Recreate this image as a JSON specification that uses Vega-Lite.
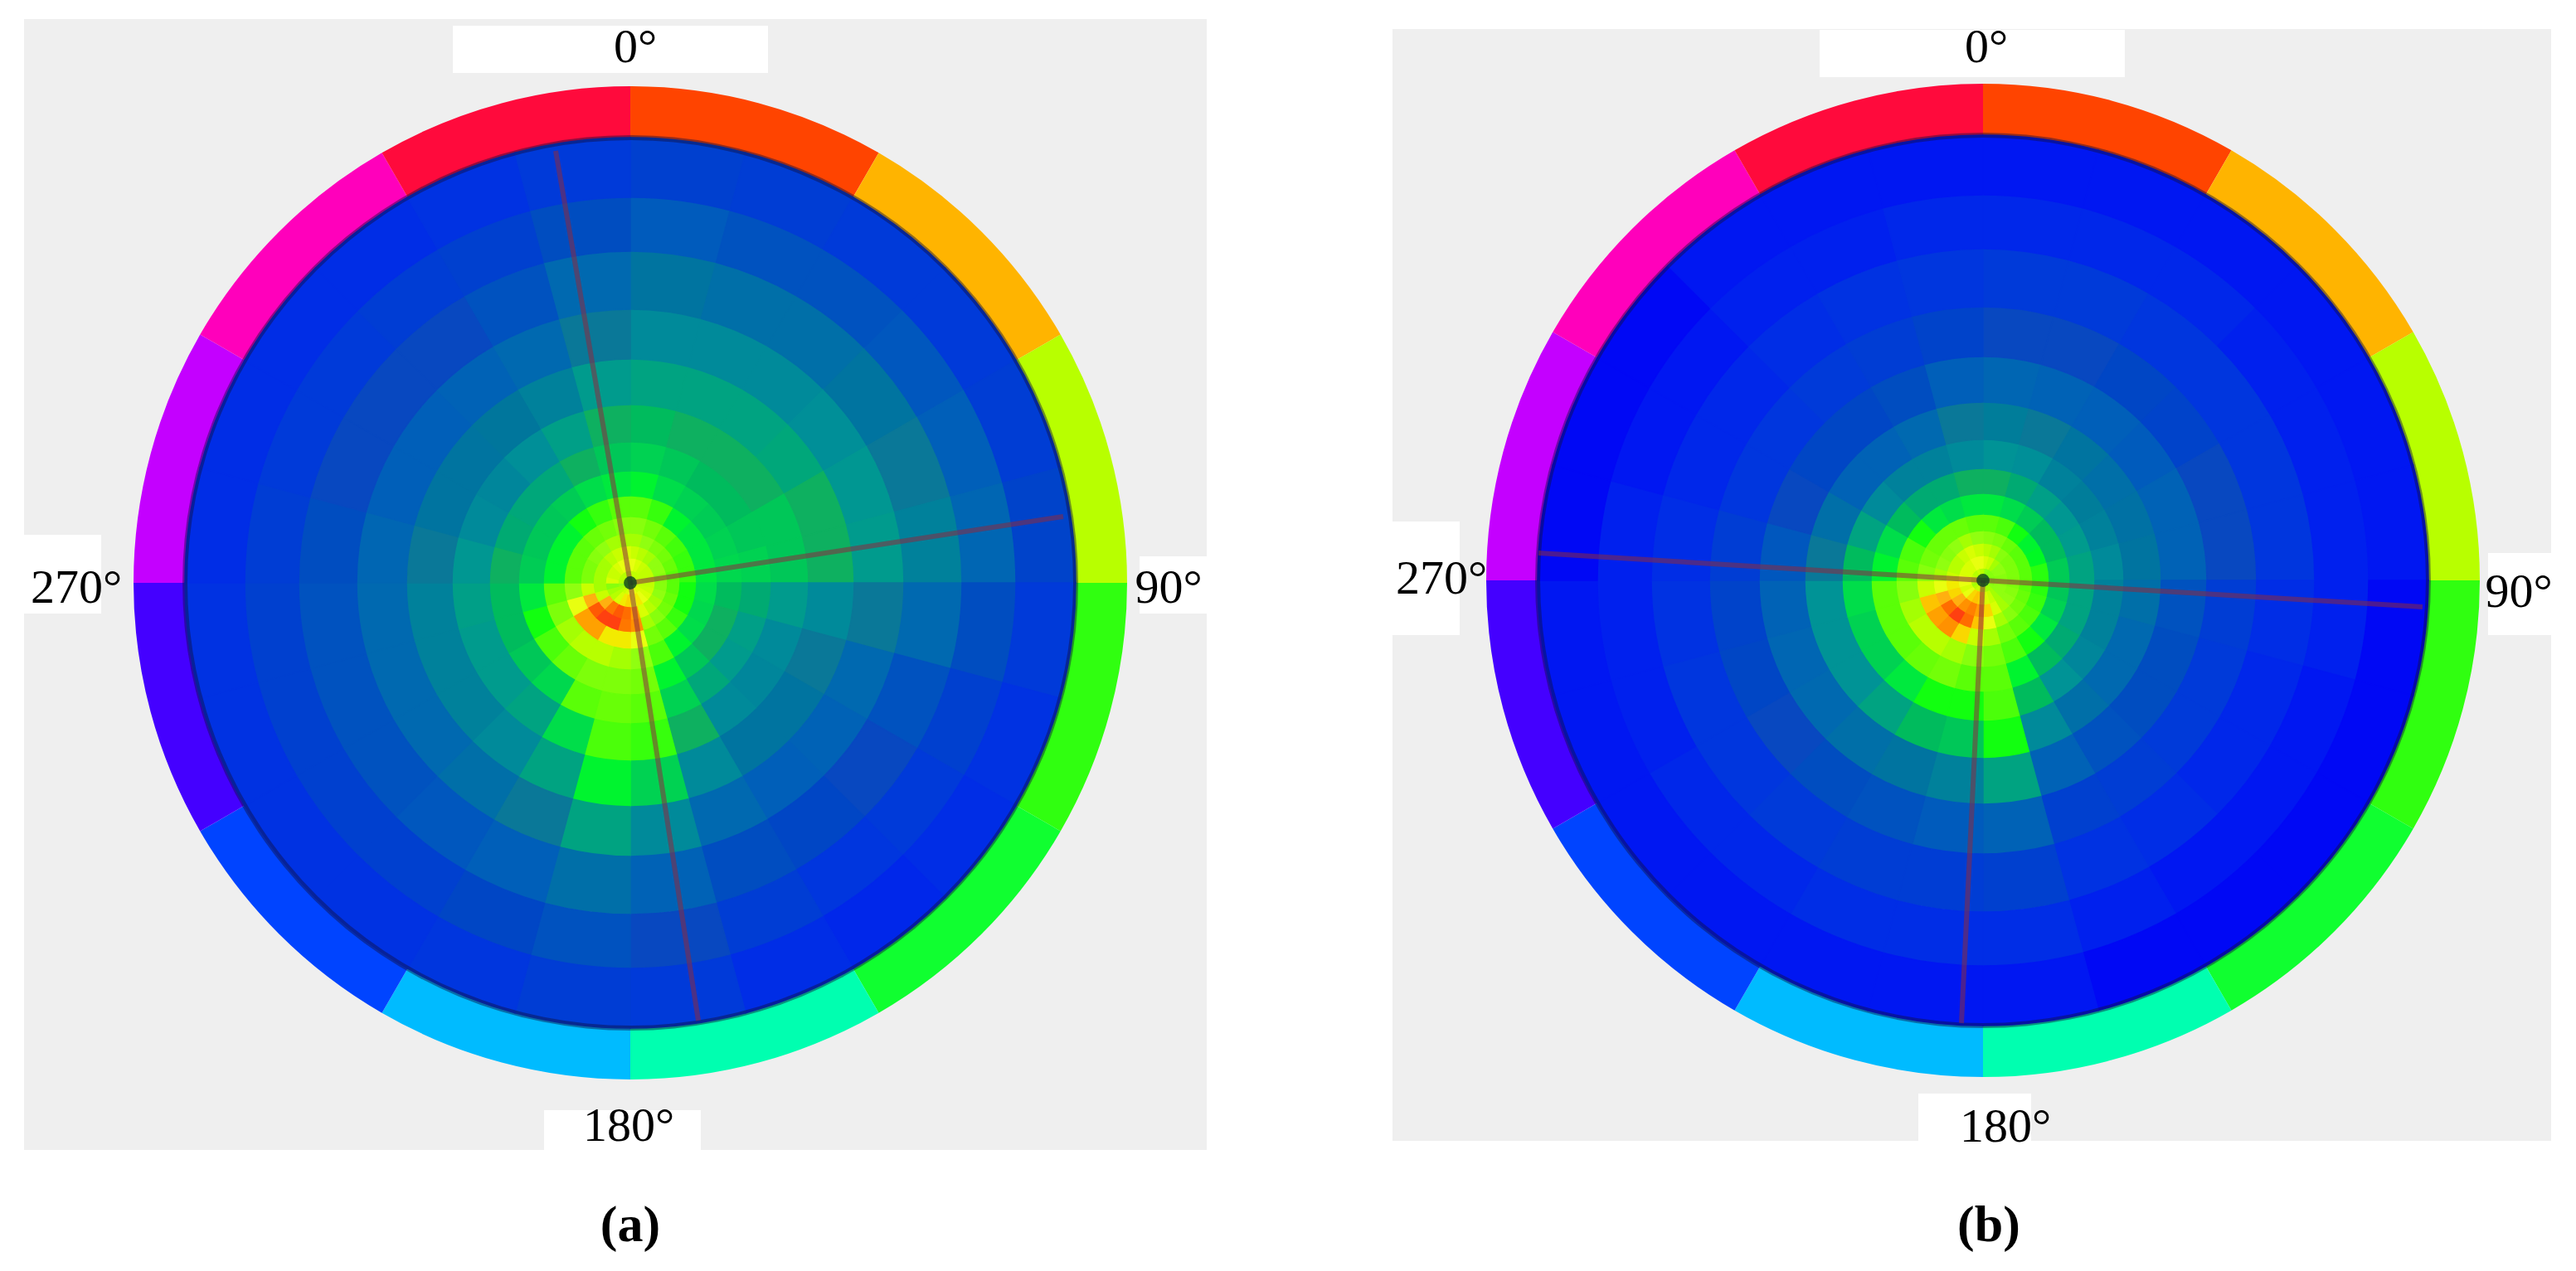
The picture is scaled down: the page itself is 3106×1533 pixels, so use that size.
{"$schema":"https://vega.github.io/schema/vega-lite/v6.json","padding":0,"spacing":0,"background":"white","config":{"view":{"stroke":null}},
"datasets":{
"rings":[{"r":0,"s":15},{"r":15,"s":30},{"r":30,"s":45},{"r":45,"s":60},{"r":60,"s":80},{"r":80,"s":105},{"r":105,"s":135},{"r":135,"s":170},{"r":170,"s":215},{"r":215,"s":270},{"r":270,"s":330},{"r":330,"s":400},{"r":400,"s":465},{"r":465,"s":537}],
"sectors":[{"a":0,"b":15},{"a":15,"b":30},{"a":30,"b":45},{"a":45,"b":60},{"a":60,"b":75},{"a":75,"b":90},{"a":90,"b":105},{"a":105,"b":120},{"a":120,"b":135},{"a":135,"b":150},{"a":150,"b":165},{"a":165,"b":180},{"a":180,"b":195},{"a":195,"b":210},{"a":210,"b":225},{"a":225,"b":240},{"a":240,"b":255},{"a":255,"b":270},{"a":270,"b":285},{"a":285,"b":300},{"a":300,"b":315},{"a":315,"b":330},{"a":330,"b":345},{"a":345,"b":360}],
"hue":[{"a":0,"b":30,"r":536,"s":599,"h":"h01"},{"a":30,"b":60,"r":536,"s":599,"h":"h02"},{"a":60,"b":90,"r":536,"s":599,"h":"h03"},{"a":90,"b":120,"r":536,"s":599,"h":"h04"},{"a":120,"b":150,"r":536,"s":599,"h":"h05"},{"a":150,"b":180,"r":536,"s":599,"h":"h06"},{"a":180,"b":210,"r":536,"s":599,"h":"h07"},{"a":210,"b":240,"r":536,"s":599,"h":"h08"},{"a":240,"b":270,"r":536,"s":599,"h":"h09"},{"a":270,"b":300,"r":536,"s":599,"h":"h10"},{"a":300,"b":330,"r":536,"s":599,"h":"h11"},{"a":330,"b":360,"r":536,"s":599,"h":"h12"}],
"A":[
{"a":0,"r":0,"v":75},{"a":0,"r":15,"v":80},{"a":0,"r":30,"v":76},{"a":0,"r":45,"v":72},{"a":0,"r":60,"v":68},{"a":0,"r":80,"v":60},{"a":0,"r":105,"v":52},{"a":0,"r":135,"v":46},{"a":0,"r":170,"v":42},{"a":0,"r":215,"v":36},{"a":0,"r":270,"v":30},{"a":0,"r":330,"v":24},{"a":0,"r":400,"v":16},{"a":0,"r":465,"v":9},
{"a":15,"r":0,"v":75},{"a":15,"r":15,"v":78},{"a":15,"r":30,"v":74},{"a":15,"r":45,"v":70},{"a":15,"r":60,"v":64},{"a":15,"r":80,"v":56},{"a":15,"r":105,"v":48},{"a":15,"r":135,"v":44},{"a":15,"r":170,"v":40},{"a":15,"r":215,"v":36},{"a":15,"r":270,"v":30},{"a":15,"r":330,"v":22},{"a":15,"r":400,"v":14},{"a":15,"r":465,"v":8},
{"a":30,"r":0,"v":75},{"a":30,"r":15,"v":76},{"a":30,"r":30,"v":72},{"a":30,"r":45,"v":66},{"a":30,"r":60,"v":60},{"a":30,"r":80,"v":52},{"a":30,"r":105,"v":46},{"a":30,"r":135,"v":42},{"a":30,"r":170,"v":40},{"a":30,"r":215,"v":36},{"a":30,"r":270,"v":30},{"a":30,"r":330,"v":22},{"a":30,"r":400,"v":14},{"a":30,"r":465,"v":7},
{"a":45,"r":0,"v":75},{"a":45,"r":15,"v":75},{"a":45,"r":30,"v":70},{"a":45,"r":45,"v":64},{"a":45,"r":60,"v":57},{"a":45,"r":80,"v":50},{"a":45,"r":105,"v":45},{"a":45,"r":135,"v":42},{"a":45,"r":170,"v":40},{"a":45,"r":215,"v":37},{"a":45,"r":270,"v":31},{"a":45,"r":330,"v":24},{"a":45,"r":400,"v":15},{"a":45,"r":465,"v":7},
{"a":60,"r":0,"v":75},{"a":60,"r":15,"v":75},{"a":60,"r":30,"v":70},{"a":60,"r":45,"v":62},{"a":60,"r":60,"v":56},{"a":60,"r":80,"v":50},{"a":60,"r":105,"v":46},{"a":60,"r":135,"v":44},{"a":60,"r":170,"v":44},{"a":60,"r":215,"v":40},{"a":60,"r":270,"v":33},{"a":60,"r":330,"v":26},{"a":60,"r":400,"v":17},{"a":60,"r":465,"v":8},
{"a":75,"r":0,"v":75},{"a":75,"r":15,"v":74},{"a":75,"r":30,"v":68},{"a":75,"r":45,"v":60},{"a":75,"r":60,"v":56},{"a":75,"r":80,"v":50},{"a":75,"r":105,"v":47},{"a":75,"r":135,"v":46},{"a":75,"r":170,"v":44},{"a":75,"r":215,"v":40},{"a":75,"r":270,"v":34},{"a":75,"r":330,"v":28},{"a":75,"r":400,"v":19},{"a":75,"r":465,"v":10},
{"a":90,"r":0,"v":75},{"a":90,"r":15,"v":75},{"a":90,"r":30,"v":68},{"a":90,"r":45,"v":60},{"a":90,"r":60,"v":54},{"a":90,"r":80,"v":48},{"a":90,"r":105,"v":42},{"a":90,"r":135,"v":38},{"a":90,"r":170,"v":34},{"a":90,"r":215,"v":30},{"a":90,"r":270,"v":26},{"a":90,"r":330,"v":20},{"a":90,"r":400,"v":13},{"a":90,"r":465,"v":7},
{"a":105,"r":0,"v":76},{"a":105,"r":15,"v":76},{"a":105,"r":30,"v":70},{"a":105,"r":45,"v":62},{"a":105,"r":60,"v":54},{"a":105,"r":80,"v":47},{"a":105,"r":105,"v":40},{"a":105,"r":135,"v":35},{"a":105,"r":170,"v":30},{"a":105,"r":215,"v":26},{"a":105,"r":270,"v":20},{"a":105,"r":330,"v":14},{"a":105,"r":400,"v":9},{"a":105,"r":465,"v":5},
{"a":120,"r":0,"v":78},{"a":120,"r":15,"v":78},{"a":120,"r":30,"v":72},{"a":120,"r":45,"v":64},{"a":120,"r":60,"v":56},{"a":120,"r":80,"v":48},{"a":120,"r":105,"v":40},{"a":120,"r":135,"v":34},{"a":120,"r":170,"v":29},{"a":120,"r":215,"v":24},{"a":120,"r":270,"v":18},{"a":120,"r":330,"v":12},{"a":120,"r":400,"v":7},{"a":120,"r":465,"v":4},
{"a":135,"r":0,"v":78},{"a":135,"r":15,"v":80},{"a":135,"r":30,"v":74},{"a":135,"r":45,"v":68},{"a":135,"r":60,"v":60},{"a":135,"r":80,"v":52},{"a":135,"r":105,"v":44},{"a":135,"r":135,"v":37},{"a":135,"r":170,"v":30},{"a":135,"r":215,"v":24},{"a":135,"r":270,"v":17},{"a":135,"r":330,"v":11},{"a":135,"r":400,"v":6},{"a":135,"r":465,"v":3},
{"a":150,"r":0,"v":80},{"a":150,"r":15,"v":82},{"a":150,"r":30,"v":78},{"a":150,"r":45,"v":72},{"a":150,"r":60,"v":64},{"a":150,"r":80,"v":58},{"a":150,"r":105,"v":52},{"a":150,"r":135,"v":46},{"a":150,"r":170,"v":40},{"a":150,"r":215,"v":30},{"a":150,"r":270,"v":20},{"a":150,"r":330,"v":13},{"a":150,"r":400,"v":8},{"a":150,"r":465,"v":4},
{"a":165,"r":0,"v":80},{"a":165,"r":15,"v":80},{"a":165,"r":30,"v":90},{"a":165,"r":45,"v":92},{"a":165,"r":60,"v":80},{"a":165,"r":80,"v":70},{"a":165,"r":105,"v":64},{"a":165,"r":135,"v":60},{"a":165,"r":170,"v":56},{"a":165,"r":215,"v":46},{"a":165,"r":270,"v":30},{"a":165,"r":330,"v":18},{"a":165,"r":400,"v":12},{"a":165,"r":465,"v":7},
{"a":180,"r":0,"v":80},{"a":180,"r":15,"v":84},{"a":180,"r":30,"v":96},{"a":180,"r":45,"v":95},{"a":180,"r":60,"v":82},{"a":180,"r":80,"v":72},{"a":180,"r":105,"v":66},{"a":180,"r":135,"v":62},{"a":180,"r":170,"v":58},{"a":180,"r":215,"v":52},{"a":180,"r":270,"v":36},{"a":180,"r":330,"v":22},{"a":180,"r":400,"v":14},{"a":180,"r":465,"v":8},
{"a":195,"r":0,"v":78},{"a":195,"r":15,"v":82},{"a":195,"r":30,"v":98},{"a":195,"r":45,"v":100},{"a":195,"r":60,"v":82},{"a":195,"r":80,"v":74},{"a":195,"r":105,"v":66},{"a":195,"r":135,"v":60},{"a":195,"r":170,"v":48},{"a":195,"r":215,"v":36},{"a":195,"r":270,"v":26},{"a":195,"r":330,"v":17},{"a":195,"r":400,"v":11},{"a":195,"r":465,"v":6},
{"a":210,"r":0,"v":76},{"a":210,"r":15,"v":78},{"a":210,"r":30,"v":95},{"a":210,"r":45,"v":100},{"a":210,"r":60,"v":90},{"a":210,"r":80,"v":74},{"a":210,"r":105,"v":62},{"a":210,"r":135,"v":47},{"a":210,"r":170,"v":36},{"a":210,"r":215,"v":30},{"a":210,"r":270,"v":22},{"a":210,"r":330,"v":15},{"a":210,"r":400,"v":9},{"a":210,"r":465,"v":5},
{"a":225,"r":0,"v":74},{"a":225,"r":15,"v":74},{"a":225,"r":30,"v":88},{"a":225,"r":45,"v":98},{"a":225,"r":60,"v":90},{"a":225,"r":80,"v":72},{"a":225,"r":105,"v":58},{"a":225,"r":135,"v":44},{"a":225,"r":170,"v":34},{"a":225,"r":215,"v":28},{"a":225,"r":270,"v":20},{"a":225,"r":330,"v":14},{"a":225,"r":400,"v":9},{"a":225,"r":465,"v":5},
{"a":240,"r":0,"v":72},{"a":240,"r":15,"v":72},{"a":240,"r":30,"v":76},{"a":240,"r":45,"v":88},{"a":240,"r":60,"v":80},{"a":240,"r":80,"v":66},{"a":240,"r":105,"v":54},{"a":240,"r":135,"v":42},{"a":240,"r":170,"v":34},{"a":240,"r":215,"v":28},{"a":240,"r":270,"v":20},{"a":240,"r":330,"v":14},{"a":240,"r":400,"v":9},{"a":240,"r":465,"v":5},
{"a":255,"r":0,"v":70},{"a":255,"r":15,"v":68},{"a":255,"r":30,"v":72},{"a":255,"r":45,"v":76},{"a":255,"r":60,"v":70},{"a":255,"r":80,"v":60},{"a":255,"r":105,"v":50},{"a":255,"r":135,"v":42},{"a":255,"r":170,"v":35},{"a":255,"r":215,"v":28},{"a":255,"r":270,"v":20},{"a":255,"r":330,"v":14},{"a":255,"r":400,"v":9},{"a":255,"r":465,"v":5},
{"a":270,"r":0,"v":74},{"a":270,"r":15,"v":78},{"a":270,"r":30,"v":72},{"a":270,"r":45,"v":66},{"a":270,"r":60,"v":60},{"a":270,"r":80,"v":52},{"a":270,"r":105,"v":45},{"a":270,"r":135,"v":40},{"a":270,"r":170,"v":33},{"a":270,"r":215,"v":26},{"a":270,"r":270,"v":19},{"a":270,"r":330,"v":13},{"a":270,"r":400,"v":8},{"a":270,"r":465,"v":4},
{"a":285,"r":0,"v":74},{"a":285,"r":15,"v":76},{"a":285,"r":30,"v":72},{"a":285,"r":45,"v":66},{"a":285,"r":60,"v":60},{"a":285,"r":80,"v":52},{"a":285,"r":105,"v":44},{"a":285,"r":135,"v":38},{"a":285,"r":170,"v":30},{"a":285,"r":215,"v":24},{"a":285,"r":270,"v":17},{"a":285,"r":330,"v":12},{"a":285,"r":400,"v":7},{"a":285,"r":465,"v":4},
{"a":300,"r":0,"v":74},{"a":300,"r":15,"v":76},{"a":300,"r":30,"v":72},{"a":300,"r":45,"v":68},{"a":300,"r":60,"v":60},{"a":300,"r":80,"v":52},{"a":300,"r":105,"v":44},{"a":300,"r":135,"v":37},{"a":300,"r":170,"v":29},{"a":300,"r":215,"v":24},{"a":300,"r":270,"v":17},{"a":300,"r":330,"v":12},{"a":300,"r":400,"v":7},{"a":300,"r":465,"v":4},
{"a":315,"r":0,"v":74},{"a":315,"r":15,"v":78},{"a":315,"r":30,"v":74},{"a":315,"r":45,"v":70},{"a":315,"r":60,"v":62},{"a":315,"r":80,"v":54},{"a":315,"r":105,"v":45},{"a":315,"r":135,"v":37},{"a":315,"r":170,"v":31},{"a":315,"r":215,"v":25},{"a":315,"r":270,"v":18},{"a":315,"r":330,"v":12},{"a":315,"r":400,"v":8},{"a":315,"r":465,"v":4},
{"a":330,"r":0,"v":74},{"a":330,"r":15,"v":80},{"a":330,"r":30,"v":76},{"a":330,"r":45,"v":72},{"a":330,"r":60,"v":64},{"a":330,"r":80,"v":56},{"a":330,"r":105,"v":48},{"a":330,"r":135,"v":40},{"a":330,"r":170,"v":35},{"a":330,"r":215,"v":28},{"a":330,"r":270,"v":20},{"a":330,"r":330,"v":14},{"a":330,"r":400,"v":9},{"a":330,"r":465,"v":5},
{"a":345,"r":0,"v":75},{"a":345,"r":15,"v":80},{"a":345,"r":30,"v":78},{"a":345,"r":45,"v":72},{"a":345,"r":60,"v":68},{"a":345,"r":80,"v":60},{"a":345,"r":105,"v":50},{"a":345,"r":135,"v":44},{"a":345,"r":170,"v":40},{"a":345,"r":215,"v":34},{"a":345,"r":270,"v":26},{"a":345,"r":330,"v":20},{"a":345,"r":400,"v":13},{"a":345,"r":465,"v":7}
],
"B":[
{"a":0,"r":0,"v":72},{"a":0,"r":15,"v":78},{"a":0,"r":30,"v":74},{"a":0,"r":45,"v":68},{"a":0,"r":60,"v":60},{"a":0,"r":80,"v":50},{"a":0,"r":105,"v":40},{"a":0,"r":135,"v":32},{"a":0,"r":170,"v":27},{"a":0,"r":215,"v":19},{"a":0,"r":270,"v":12},{"a":0,"r":330,"v":7},{"a":0,"r":400,"v":3},{"a":0,"r":465,"v":1},
{"a":15,"r":0,"v":70},{"a":15,"r":15,"v":76},{"a":15,"r":30,"v":72},{"a":15,"r":45,"v":66},{"a":15,"r":60,"v":58},{"a":15,"r":80,"v":48},{"a":15,"r":105,"v":38},{"a":15,"r":135,"v":31},{"a":15,"r":170,"v":26},{"a":15,"r":215,"v":18},{"a":15,"r":270,"v":12},{"a":15,"r":330,"v":7},{"a":15,"r":400,"v":3},{"a":15,"r":465,"v":1},
{"a":30,"r":0,"v":68},{"a":30,"r":15,"v":72},{"a":30,"r":30,"v":68},{"a":30,"r":45,"v":62},{"a":30,"r":60,"v":54},{"a":30,"r":80,"v":45},{"a":30,"r":105,"v":35},{"a":30,"r":135,"v":28},{"a":30,"r":170,"v":24},{"a":30,"r":215,"v":17},{"a":30,"r":270,"v":11},{"a":30,"r":330,"v":6},{"a":30,"r":400,"v":3},{"a":30,"r":465,"v":1},
{"a":45,"r":0,"v":68},{"a":45,"r":15,"v":70},{"a":45,"r":30,"v":66},{"a":45,"r":45,"v":60},{"a":45,"r":60,"v":52},{"a":45,"r":80,"v":42},{"a":45,"r":105,"v":33},{"a":45,"r":135,"v":27},{"a":45,"r":170,"v":22},{"a":45,"r":215,"v":16},{"a":45,"r":270,"v":10},{"a":45,"r":330,"v":6},{"a":45,"r":400,"v":2},{"a":45,"r":465,"v":1},
{"a":60,"r":0,"v":68},{"a":60,"r":15,"v":70},{"a":60,"r":30,"v":66},{"a":60,"r":45,"v":60},{"a":60,"r":60,"v":53},{"a":60,"r":80,"v":42},{"a":60,"r":105,"v":34},{"a":60,"r":135,"v":28},{"a":60,"r":170,"v":23},{"a":60,"r":215,"v":18},{"a":60,"r":270,"v":12},{"a":60,"r":330,"v":6},{"a":60,"r":400,"v":2},{"a":60,"r":465,"v":1},
{"a":75,"r":0,"v":66},{"a":75,"r":15,"v":68},{"a":75,"r":30,"v":66},{"a":75,"r":45,"v":60},{"a":75,"r":60,"v":55},{"a":75,"r":80,"v":45},{"a":75,"r":105,"v":36},{"a":75,"r":135,"v":30},{"a":75,"r":170,"v":24},{"a":75,"r":215,"v":18},{"a":75,"r":270,"v":12},{"a":75,"r":330,"v":6},{"a":75,"r":400,"v":2},{"a":75,"r":465,"v":1},
{"a":90,"r":0,"v":66},{"a":90,"r":15,"v":68},{"a":90,"r":30,"v":66},{"a":90,"r":45,"v":60},{"a":90,"r":60,"v":55},{"a":90,"r":80,"v":44},{"a":90,"r":105,"v":36},{"a":90,"r":135,"v":28},{"a":90,"r":170,"v":22},{"a":90,"r":215,"v":14},{"a":90,"r":270,"v":8},{"a":90,"r":330,"v":4},{"a":90,"r":400,"v":2},{"a":90,"r":465,"v":0},
{"a":105,"r":0,"v":68},{"a":105,"r":15,"v":70},{"a":105,"r":30,"v":68},{"a":105,"r":45,"v":62},{"a":105,"r":60,"v":56},{"a":105,"r":80,"v":46},{"a":105,"r":105,"v":36},{"a":105,"r":135,"v":28},{"a":105,"r":170,"v":20},{"a":105,"r":215,"v":13},{"a":105,"r":270,"v":7},{"a":105,"r":330,"v":3},{"a":105,"r":400,"v":1},{"a":105,"r":465,"v":0},
{"a":120,"r":0,"v":70},{"a":120,"r":15,"v":70},{"a":120,"r":30,"v":70},{"a":120,"r":45,"v":64},{"a":120,"r":60,"v":58},{"a":120,"r":80,"v":50},{"a":120,"r":105,"v":38},{"a":120,"r":135,"v":29},{"a":120,"r":170,"v":20},{"a":120,"r":215,"v":13},{"a":120,"r":270,"v":7},{"a":120,"r":330,"v":3},{"a":120,"r":400,"v":1},{"a":120,"r":465,"v":0},
{"a":135,"r":0,"v":72},{"a":135,"r":15,"v":72},{"a":135,"r":30,"v":72},{"a":135,"r":45,"v":68},{"a":135,"r":60,"v":60},{"a":135,"r":80,"v":54},{"a":135,"r":105,"v":42},{"a":135,"r":135,"v":32},{"a":135,"r":170,"v":22},{"a":135,"r":215,"v":14},{"a":135,"r":270,"v":8},{"a":135,"r":330,"v":4},{"a":135,"r":400,"v":1},{"a":135,"r":465,"v":0},
{"a":150,"r":0,"v":72},{"a":150,"r":15,"v":76},{"a":150,"r":30,"v":78},{"a":150,"r":45,"v":72},{"a":150,"r":60,"v":64},{"a":150,"r":80,"v":58},{"a":150,"r":105,"v":52},{"a":150,"r":135,"v":42},{"a":150,"r":170,"v":30},{"a":150,"r":215,"v":18},{"a":150,"r":270,"v":9},{"a":150,"r":330,"v":5},{"a":150,"r":400,"v":2},{"a":150,"r":465,"v":0},
{"a":165,"r":0,"v":74},{"a":165,"r":15,"v":78},{"a":165,"r":30,"v":84},{"a":165,"r":45,"v":80},{"a":165,"r":60,"v":72},{"a":165,"r":80,"v":64},{"a":165,"r":105,"v":60},{"a":165,"r":135,"v":58},{"a":165,"r":170,"v":54},{"a":165,"r":215,"v":36},{"a":165,"r":270,"v":18},{"a":165,"r":330,"v":9},{"a":165,"r":400,"v":4},{"a":165,"r":465,"v":1},
{"a":180,"r":0,"v":74},{"a":180,"r":15,"v":84},{"a":180,"r":30,"v":90},{"a":180,"r":45,"v":86},{"a":180,"r":60,"v":76},{"a":180,"r":80,"v":68},{"a":180,"r":105,"v":60},{"a":180,"r":135,"v":54},{"a":180,"r":170,"v":44},{"a":180,"r":215,"v":28},{"a":180,"r":270,"v":16},{"a":180,"r":330,"v":8},{"a":180,"r":400,"v":4},{"a":180,"r":465,"v":1},
{"a":195,"r":0,"v":76},{"a":195,"r":15,"v":86},{"a":195,"r":30,"v":94},{"a":195,"r":45,"v":96},{"a":195,"r":60,"v":84},{"a":195,"r":80,"v":72},{"a":195,"r":105,"v":64},{"a":195,"r":135,"v":54},{"a":195,"r":170,"v":42},{"a":195,"r":215,"v":24},{"a":195,"r":270,"v":14},{"a":195,"r":330,"v":8},{"a":195,"r":400,"v":4},{"a":195,"r":465,"v":1},
{"a":210,"r":0,"v":76},{"a":210,"r":15,"v":84},{"a":210,"r":30,"v":92},{"a":210,"r":45,"v":100},{"a":210,"r":60,"v":92},{"a":210,"r":80,"v":74},{"a":210,"r":105,"v":62},{"a":210,"r":135,"v":50},{"a":210,"r":170,"v":36},{"a":210,"r":215,"v":22},{"a":210,"r":270,"v":13},{"a":210,"r":330,"v":7},{"a":210,"r":400,"v":3},{"a":210,"r":465,"v":1},
{"a":225,"r":0,"v":74},{"a":225,"r":15,"v":80},{"a":225,"r":30,"v":88},{"a":225,"r":45,"v":96},{"a":225,"r":60,"v":90},{"a":225,"r":80,"v":74},{"a":225,"r":105,"v":60},{"a":225,"r":135,"v":46},{"a":225,"r":170,"v":32},{"a":225,"r":215,"v":20},{"a":225,"r":270,"v":12},{"a":225,"r":330,"v":6},{"a":225,"r":400,"v":3},{"a":225,"r":465,"v":1},
{"a":240,"r":0,"v":72},{"a":240,"r":15,"v":78},{"a":240,"r":30,"v":84},{"a":240,"r":45,"v":88},{"a":240,"r":60,"v":86},{"a":240,"r":80,"v":72},{"a":240,"r":105,"v":60},{"a":240,"r":135,"v":46},{"a":240,"r":170,"v":32},{"a":240,"r":215,"v":19},{"a":240,"r":270,"v":11},{"a":240,"r":330,"v":6},{"a":240,"r":400,"v":2},{"a":240,"r":465,"v":1},
{"a":255,"r":0,"v":74},{"a":255,"r":15,"v":80},{"a":255,"r":30,"v":82},{"a":255,"r":45,"v":80},{"a":255,"r":60,"v":76},{"a":255,"r":80,"v":68},{"a":255,"r":105,"v":60},{"a":255,"r":135,"v":48},{"a":255,"r":170,"v":32},{"a":255,"r":215,"v":18},{"a":255,"r":270,"v":10},{"a":255,"r":330,"v":5},{"a":255,"r":400,"v":2},{"a":255,"r":465,"v":1},
{"a":270,"r":0,"v":76},{"a":270,"r":15,"v":80},{"a":270,"r":30,"v":76},{"a":270,"r":45,"v":72},{"a":270,"r":60,"v":68},{"a":270,"r":80,"v":60},{"a":270,"r":105,"v":52},{"a":270,"r":135,"v":42},{"a":270,"r":170,"v":26},{"a":270,"r":215,"v":15},{"a":270,"r":270,"v":8},{"a":270,"r":330,"v":4},{"a":270,"r":400,"v":2},{"a":270,"r":465,"v":0},
{"a":285,"r":0,"v":76},{"a":285,"r":15,"v":78},{"a":285,"r":30,"v":74},{"a":285,"r":45,"v":70},{"a":285,"r":60,"v":64},{"a":285,"r":80,"v":58},{"a":285,"r":105,"v":48},{"a":285,"r":135,"v":36},{"a":285,"r":170,"v":22},{"a":285,"r":215,"v":12},{"a":285,"r":270,"v":6},{"a":285,"r":330,"v":3},{"a":285,"r":400,"v":1},{"a":285,"r":465,"v":0},
{"a":300,"r":0,"v":74},{"a":300,"r":15,"v":78},{"a":300,"r":30,"v":74},{"a":300,"r":45,"v":68},{"a":300,"r":60,"v":62},{"a":300,"r":80,"v":54},{"a":300,"r":105,"v":42},{"a":300,"r":135,"v":30},{"a":300,"r":170,"v":18},{"a":300,"r":215,"v":11},{"a":300,"r":270,"v":6},{"a":300,"r":330,"v":3},{"a":300,"r":400,"v":1},{"a":300,"r":465,"v":0},
{"a":315,"r":0,"v":74},{"a":315,"r":15,"v":78},{"a":315,"r":30,"v":76},{"a":315,"r":45,"v":70},{"a":315,"r":60,"v":62},{"a":315,"r":80,"v":50},{"a":315,"r":105,"v":38},{"a":315,"r":135,"v":28},{"a":315,"r":170,"v":18},{"a":315,"r":215,"v":11},{"a":315,"r":270,"v":7},{"a":315,"r":330,"v":4},{"a":315,"r":400,"v":2},{"a":315,"r":465,"v":1},
{"a":330,"r":0,"v":76},{"a":330,"r":15,"v":80},{"a":330,"r":30,"v":78},{"a":330,"r":45,"v":72},{"a":330,"r":60,"v":62},{"a":330,"r":80,"v":48},{"a":330,"r":105,"v":38},{"a":330,"r":135,"v":28},{"a":330,"r":170,"v":20},{"a":330,"r":215,"v":13},{"a":330,"r":270,"v":8},{"a":330,"r":330,"v":5},{"a":330,"r":400,"v":2},{"a":330,"r":465,"v":1},
{"a":345,"r":0,"v":74},{"a":345,"r":15,"v":80},{"a":345,"r":30,"v":76},{"a":345,"r":45,"v":70},{"a":345,"r":60,"v":60},{"a":345,"r":80,"v":50},{"a":345,"r":105,"v":40},{"a":345,"r":135,"v":30},{"a":345,"r":170,"v":26},{"a":345,"r":215,"v":17},{"a":345,"r":270,"v":10},{"a":345,"r":330,"v":6},{"a":345,"r":400,"v":3},{"a":345,"r":465,"v":1}
]},
"hconcat":[
{"width":1553,"height":1533,"layer":[
{"data":{"values":[{"x":-731,"x2":695,"y":680,"y2":-684}]},"mark":{"type":"rect","fill":"#efefef"},"encoding":{"x":{"field":"x","type":"quantitative","axis":null,"scale":{"domain":[-760,793],"nice":false,"zero":false}},"x2":{"field":"x2"},"y":{"field":"y","type":"quantitative","axis":null,"scale":{"domain":[-830,703],"nice":false,"zero":false}},"y2":{"field":"y2"}}},
{"data":{"values":[{"x":-214,"x2":166,"y":672,"y2":615},{"x":-731,"x2":-638,"y":58,"y2":-37},{"x":614,"x2":695,"y":32,"y2":-37},{"x":-104,"x2":85,"y":-636,"y2":-684}]},"mark":{"type":"rect","fill":"#ffffff"},"encoding":{"x":{"field":"x","type":"quantitative"},"x2":{"field":"x2"},"y":{"field":"y","type":"quantitative"},"y2":{"field":"y2"}}},
{"data":{"name":"hue"},"mark":{"type":"arc"},"encoding":{"x":{"datum":0,"type":"quantitative"},"y":{"datum":0,"type":"quantitative"},"theta":{"field":"a","type":"quantitative","stack":null,"scale":{"domain":[0,360],"range":[0,6.283185307]}},"theta2":{"field":"b"},"radius":{"field":"r","type":"quantitative","stack":null,"scale":{"type":"linear","domain":[0,600],"range":[0,600],"zero":false}},"radius2":{"field":"s"},"fill":{"field":"h","type":"nominal","legend":null,"scale":{"domain":["h01","h02","h03","h04","h05","h06","h07","h08","h09","h10","h11","h12"],"range":["#ff4400","#ffb400","#b8ff00","#30ff10","#10ff30","#00ffb0","#00bbff","#0044ff","#4400ff","#c400ff","#ff00bb","#ff0a3c"]}}}},
{"data":{"name":"A"},"transform":[{"lookup":"r","from":{"data":{"name":"rings"},"key":"r","fields":["s"]}},{"lookup":"a","from":{"data":{"name":"sectors"},"key":"a","fields":["b"]}}],"mark":{"type":"arc","strokeWidth":1.5},"encoding":{"x":{"datum":0,"type":"quantitative"},"y":{"datum":0,"type":"quantitative"},"theta":{"field":"a","type":"quantitative","stack":null},"theta2":{"field":"b"},"radius":{"field":"r","type":"quantitative","stack":null},"radius2":{"field":"s"},"stroke":{"field":"v","type":"quantitative","legend":null,"scale":{"domain":[0,12,26,40,54,70,80,88,100],"range":["#0008f5","#0848c0","#0a7898","#0eb060","#12ff10","#90ff10","#e8ff10","#ffb010","#ff4010"]}},"color":{"field":"v","type":"quantitative","legend":null,"scale":{"domain":[0,12,26,40,54,70,80,88,100],"range":["#0008f5","#0848c0","#0a7898","#0eb060","#12ff10","#90ff10","#e8ff10","#ffb010","#ff4010"]}}}},
{"data":{"values":[{"a":0,"b":360,"r":534,"s":540}]},"mark":{"type":"arc","fill":"#101040","opacity":0.45},"encoding":{"x":{"datum":0,"type":"quantitative"},"y":{"datum":0,"type":"quantitative"},"theta":{"field":"a","type":"quantitative","stack":null},"theta2":{"field":"b"},"radius":{"field":"r","type":"quantitative","stack":null},"radius2":{"field":"s"}}},
{"data":{"values":[{"x":-90,"y":521,"x2":0,"y2":0},{"x":522,"y":80,"x2":0,"y2":0},{"x":82,"y":-528,"x2":0,"y2":0}]},"mark":{"type":"rule","color":"#8a2a40","strokeWidth":6,"opacity":0.55},"encoding":{"x":{"field":"x","type":"quantitative"},"y":{"field":"y","type":"quantitative"},"x2":{"field":"x2"},"y2":{"field":"y2"}}},
{"data":{"values":[{"x":0,"y":0}]},"mark":{"type":"point","filled":true,"color":"#0a4020","size":250,"opacity":0.8},"encoding":{"x":{"field":"x","type":"quantitative"},"y":{"field":"y","type":"quantitative"}}},
{"data":{"values":[{"x":6,"y":628,"t":"0°"},{"x":649,"y":-24,"t":"90°"},{"x":-668,"y":-24,"t":"270°"},{"x":-2,"y":-673,"t":"180°"}]},"mark":{"type":"text","font":"Liberation Serif","fontSize":58,"color":"#000000","align":"center","baseline":"alphabetic"},"encoding":{"x":{"field":"x","type":"quantitative"},"y":{"field":"y","type":"quantitative"},"text":{"field":"t"}}},
{"data":{"values":[{"x":0,"y":-794,"t":"(a)"}]},"mark":{"type":"text","font":"Liberation Serif","fontSize":62,"fontWeight":"bold","color":"#000000","align":"center","baseline":"alphabetic"},"encoding":{"x":{"field":"x","type":"quantitative"},"y":{"field":"y","type":"quantitative"},"text":{"field":"t"}}}
]},
{"width":1553,"height":1533,"layer":[
{"data":{"values":[{"x":-712,"x2":685,"y":665,"y2":-676}]},"mark":{"type":"rect","fill":"#efefef"},"encoding":{"x":{"field":"x","type":"quantitative","axis":null,"scale":{"domain":[-838,715],"nice":false,"zero":false}},"x2":{"field":"x2"},"y":{"field":"y","type":"quantitative","axis":null,"scale":{"domain":[-833,700],"nice":false,"zero":false}},"y2":{"field":"y2"}}},
{"data":{"values":[{"x":-197,"x2":171,"y":664,"y2":607},{"x":-712,"x2":-631,"y":71,"y2":-66},{"x":609,"x2":685,"y":33,"y2":-66},{"x":-78,"x2":58,"y":-619,"y2":-676}]},"mark":{"type":"rect","fill":"#ffffff"},"encoding":{"x":{"field":"x","type":"quantitative"},"x2":{"field":"x2"},"y":{"field":"y","type":"quantitative"},"y2":{"field":"y2"}}},
{"data":{"name":"hue"},"mark":{"type":"arc"},"encoding":{"x":{"datum":0,"type":"quantitative"},"y":{"datum":0,"type":"quantitative"},"theta":{"field":"a","type":"quantitative","stack":null,"scale":{"domain":[0,360],"range":[0,6.283185307]}},"theta2":{"field":"b"},"radius":{"field":"r","type":"quantitative","stack":null,"scale":{"type":"linear","domain":[0,600],"range":[0,600],"zero":false}},"radius2":{"field":"s"},"fill":{"field":"h","type":"nominal","legend":null,"scale":{"domain":["h01","h02","h03","h04","h05","h06","h07","h08","h09","h10","h11","h12"],"range":["#ff4400","#ffb400","#b8ff00","#30ff10","#10ff30","#00ffb0","#00bbff","#0044ff","#4400ff","#c400ff","#ff00bb","#ff0a3c"]}}}},
{"data":{"name":"B"},"transform":[{"lookup":"r","from":{"data":{"name":"rings"},"key":"r","fields":["s"]}},{"lookup":"a","from":{"data":{"name":"sectors"},"key":"a","fields":["b"]}}],"mark":{"type":"arc","strokeWidth":1.5},"encoding":{"x":{"datum":0,"type":"quantitative"},"y":{"datum":0,"type":"quantitative"},"theta":{"field":"a","type":"quantitative","stack":null},"theta2":{"field":"b"},"radius":{"field":"r","type":"quantitative","stack":null},"radius2":{"field":"s"},"stroke":{"field":"v","type":"quantitative","legend":null,"scale":{"domain":[0,12,26,40,54,70,80,88,100],"range":["#0008f5","#0848c0","#0a7898","#0eb060","#12ff10","#90ff10","#e8ff10","#ffb010","#ff4010"]}},"color":{"field":"v","type":"quantitative","legend":null,"scale":{"domain":[0,12,26,40,54,70,80,88,100],"range":["#0008f5","#0848c0","#0a7898","#0eb060","#12ff10","#90ff10","#e8ff10","#ffb010","#ff4010"]}}}},
{"data":{"values":[{"a":0,"b":360,"r":534,"s":540}]},"mark":{"type":"arc","fill":"#101040","opacity":0.45},"encoding":{"x":{"datum":0,"type":"quantitative"},"y":{"datum":0,"type":"quantitative"},"theta":{"field":"a","type":"quantitative","stack":null},"theta2":{"field":"b"},"radius":{"field":"r","type":"quantitative","stack":null},"radius2":{"field":"s"}}},
{"data":{"values":[{"x":-536,"y":33,"x2":0,"y2":0},{"x":530,"y":-32,"x2":0,"y2":0},{"x":-26,"y":-534,"x2":0,"y2":0}]},"mark":{"type":"rule","color":"#8a2a40","strokeWidth":6,"opacity":0.55},"encoding":{"x":{"field":"x","type":"quantitative"},"y":{"field":"y","type":"quantitative"},"x2":{"field":"x2"},"y2":{"field":"y2"}}},
{"data":{"values":[{"x":0,"y":0}]},"mark":{"type":"point","filled":true,"color":"#0a4020","size":250,"opacity":0.8},"encoding":{"x":{"field":"x","type":"quantitative"},"y":{"field":"y","type":"quantitative"}}},
{"data":{"values":[{"x":4,"y":625,"t":"0°"},{"x":646,"y":-32,"t":"90°"},{"x":-653,"y":-16,"t":"270°"},{"x":27,"y":-677,"t":"180°"}]},"mark":{"type":"text","font":"Liberation Serif","fontSize":58,"color":"#000000","align":"center","baseline":"alphabetic"},"encoding":{"x":{"field":"x","type":"quantitative"},"y":{"field":"y","type":"quantitative"},"text":{"field":"t"}}},
{"data":{"values":[{"x":7,"y":-797,"t":"(b)"}]},"mark":{"type":"text","font":"Liberation Serif","fontSize":62,"fontWeight":"bold","color":"#000000","align":"center","baseline":"alphabetic"},"encoding":{"x":{"field":"x","type":"quantitative"},"y":{"field":"y","type":"quantitative"},"text":{"field":"t"}}}
]}
]}
